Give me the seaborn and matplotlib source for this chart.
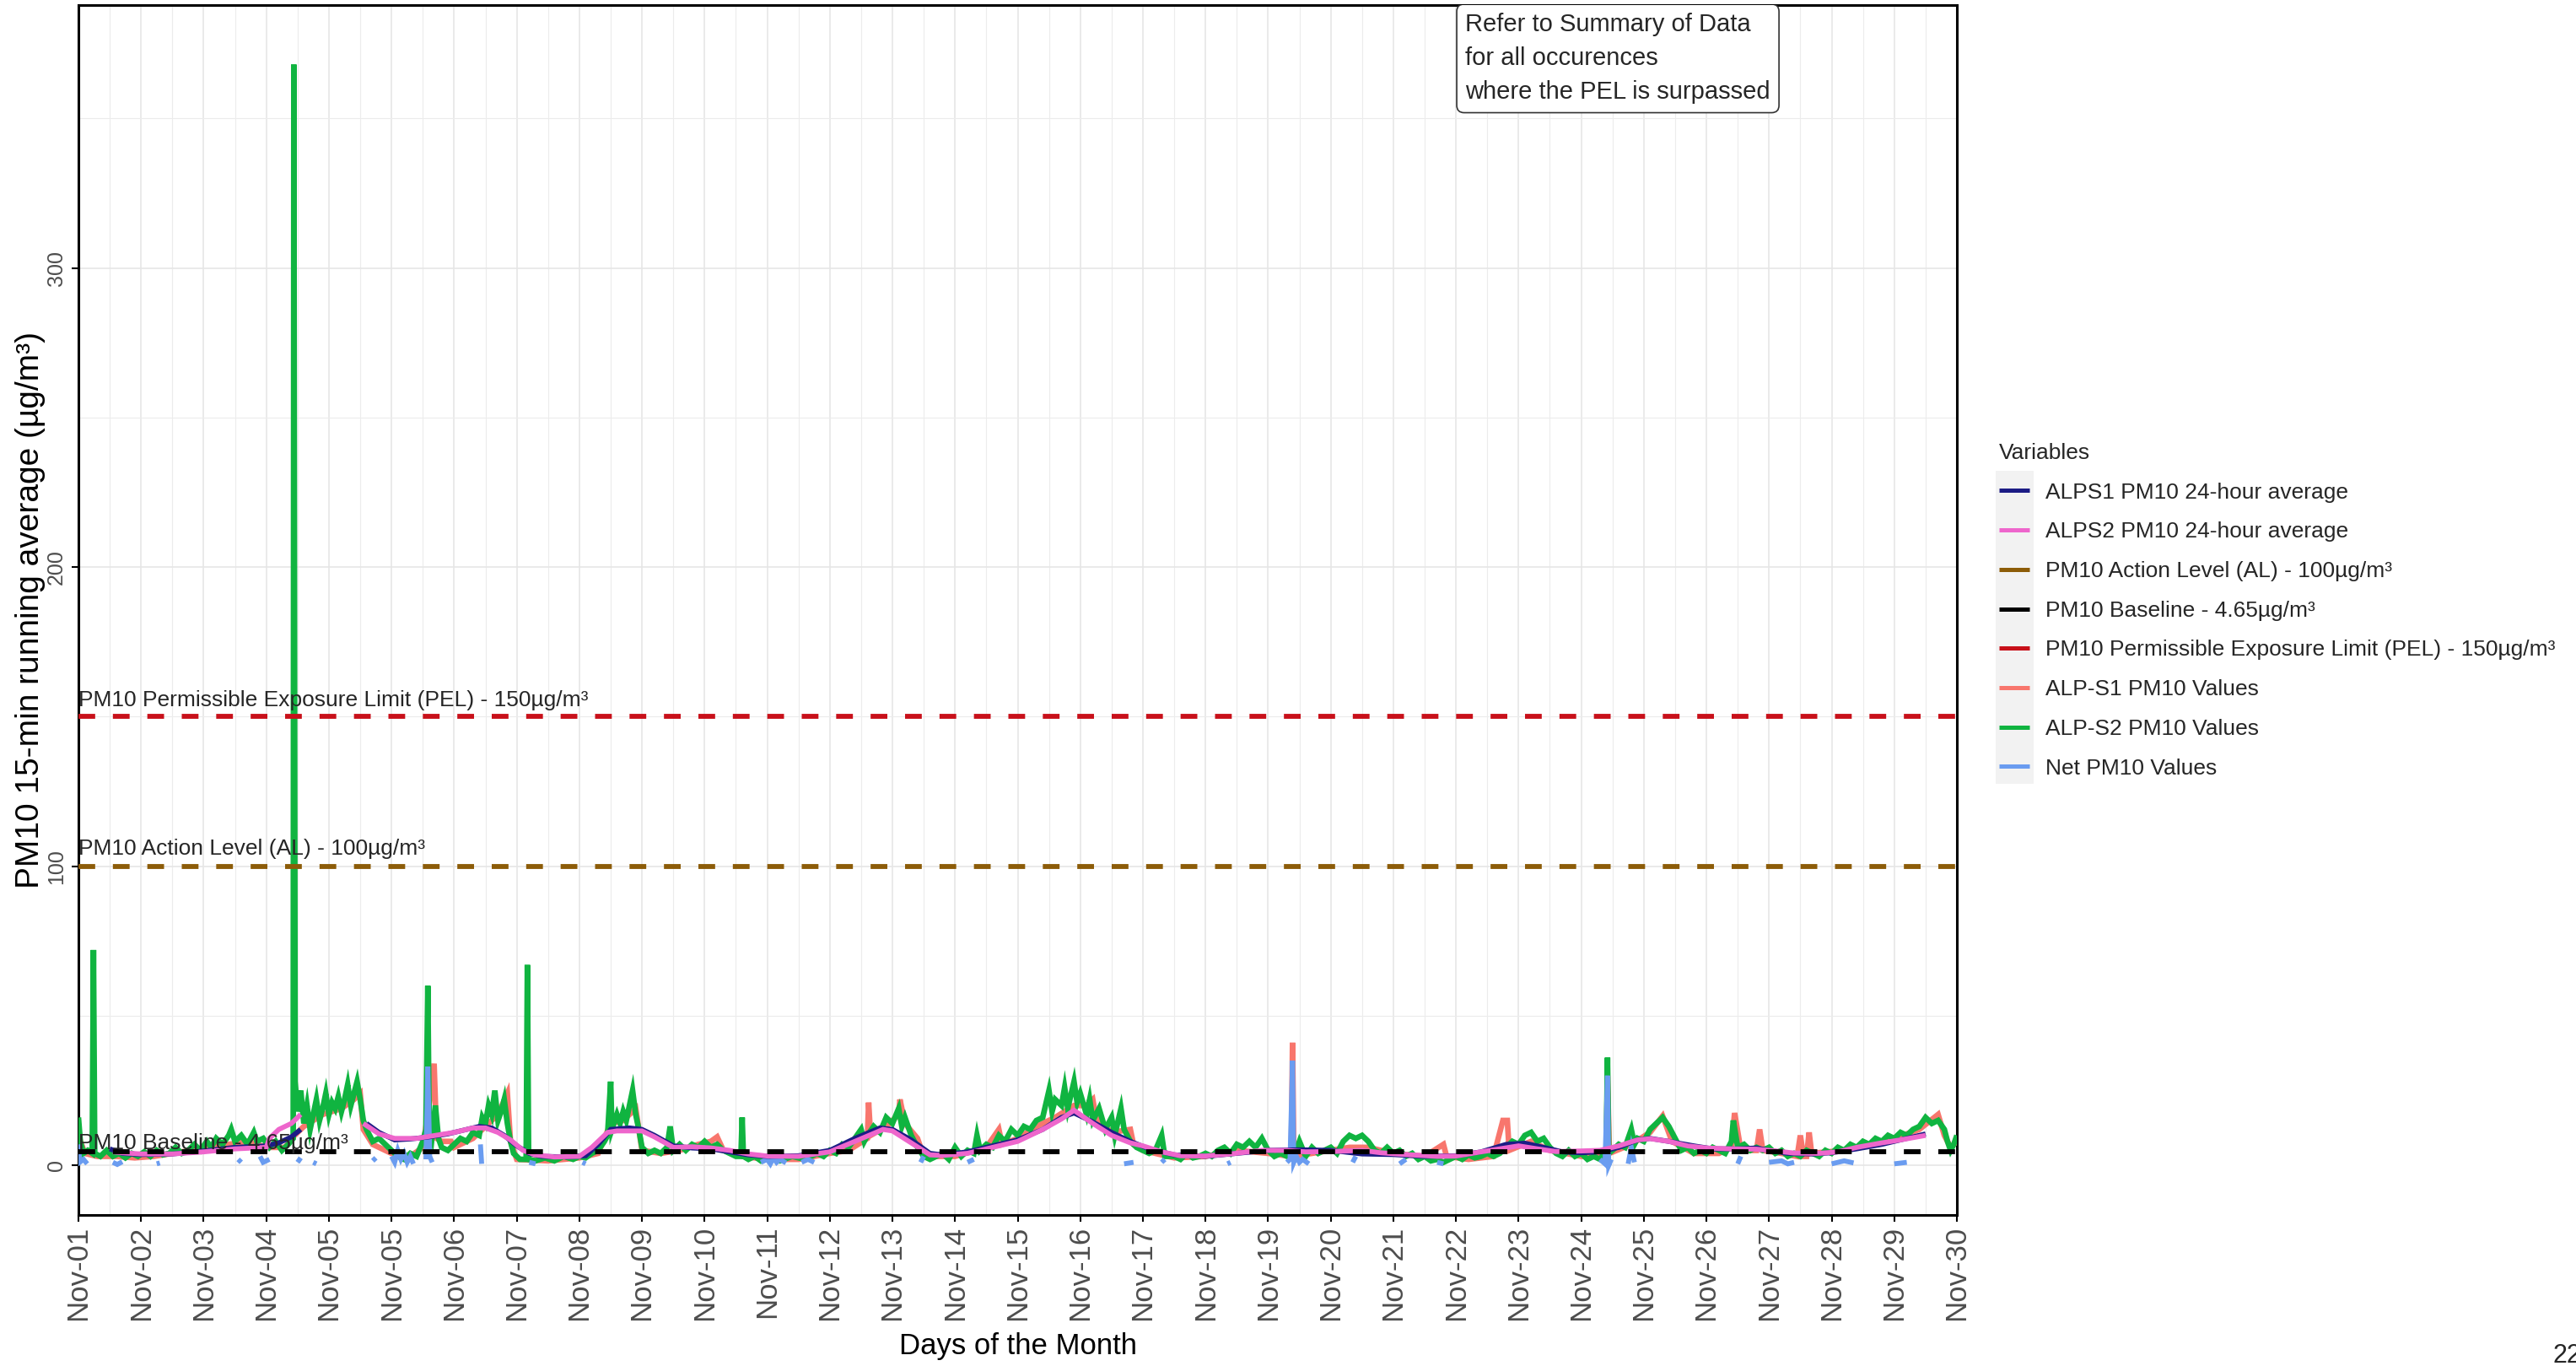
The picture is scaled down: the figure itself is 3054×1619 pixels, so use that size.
import numpy as np
import pandas as pd
import matplotlib.pyplot as plt
import seaborn as sns
from matplotlib.lines import Line2D
from matplotlib.patches import Rectangle

nan = np.nan

# ---- data (days since start of Nov-01, values in ug/m3) ----
tick_labels = ["Nov-01", "Nov-02", "Nov-03", "Nov-04", "Nov-05", "Nov-05", "Nov-06",
               "Nov-07", "Nov-08", "Nov-09", "Nov-10", "Nov-11", "Nov-12", "Nov-13",
               "Nov-14", "Nov-15", "Nov-16", "Nov-17", "Nov-18", "Nov-19", "Nov-20",
               "Nov-21", "Nov-22", "Nov-23", "Nov-24", "Nov-25", "Nov-26", "Nov-27",
               "Nov-28", "Nov-29", "Nov-30"]

s2_days = [0.00, 0.03, 0.08, 0.15, 0.22, 0.24, 0.26, 0.35, 0.45, 0.55, 0.65, 0.75, 0.85, 0.95,
           1.05, 1.15, 1.25, 1.35, 1.45, 1.55, 1.65, 1.75, 1.85, 1.95, 2.05, 2.12, 2.2, 2.3,
           2.4, 2.44, 2.5, 2.6, 2.7, 2.8, 2.85, 2.95, 3.05, 3.15, 3.25, 3.35, 3.43, 3.44, 3.46,
           3.5, 3.55, 3.6, 3.65, 3.7, 3.75, 3.8, 3.85, 3.9, 3.95, 4.0, 4.05, 4.1, 4.15, 4.2,
           4.25, 4.3, 4.35, 4.4, 4.45, 4.5, 4.55, 4.6, 4.65, 4.7, 4.8, 4.9, 5.0, 5.1, 5.2,
           5.3, 5.4, 5.5, 5.55, 5.58, 5.6, 5.65, 5.7, 5.75, 5.8, 5.9, 6.0, 6.1, 6.2, 6.3,
           6.4, 6.45, 6.5, 6.55, 6.6, 6.65, 6.7, 6.75, 6.8, 6.85, 6.9, 6.95, 7.05, 7.15,
           7.17, 7.19, 7.3, 7.45, 7.6, 7.75, 7.9, 8.0, 8.1, 8.2, 8.3, 8.4, 8.45, 8.5, 8.52,
           8.6, 8.65, 8.7, 8.75, 8.8, 8.85, 8.9, 8.95, 9.0, 9.1, 9.2, 9.3, 9.4, 9.45, 9.5,
           9.6, 9.7, 9.8, 9.9, 10.0, 10.1, 10.2, 10.3, 10.4, 10.5, 10.58, 10.6, 10.62,
           10.7, 10.8, 10.9, 11.0, 11.2, 11.4, 11.6, 11.8, 11.9, 12.0, 12.1, 12.2, 12.3,
           12.4, 12.5, 12.55, 12.6, 12.7, 12.8, 12.9, 13.0, 13.1, 13.15, 13.2, 13.3, 13.4,
           13.5, 13.6, 13.7, 13.8, 13.9, 14.0, 14.1, 14.2, 14.3, 14.35, 14.4, 14.5, 14.6,
           14.7, 14.8, 14.9, 15.0, 15.1, 15.2, 15.3, 15.4, 15.5, 15.55, 15.6, 15.7, 15.75,
           15.8, 15.9, 15.95, 16.0, 16.1, 16.15, 16.2, 16.3, 16.4, 16.5, 16.55, 16.65, 16.7,
           16.8, 16.9, 17.0, 17.1, 17.2, 17.3, 17.35, 17.5, 17.6, 17.7, 17.8, 17.9, 18.0,
           18.1, 18.2, 18.3, 18.4, 18.5, 18.6, 18.7, 18.8, 18.9, 19.0, 19.1, 19.2, 19.3,
           19.39, 19.45, 19.5, 19.6, 19.7, 19.8, 19.9, 20.0, 20.1, 20.2, 20.3, 20.4, 20.5,
           20.6, 20.7, 20.8, 20.9, 21.0, 21.1, 21.2, 21.3, 21.4, 21.5, 21.6, 21.7, 21.8,
           21.9, 22.0, 22.1, 22.2, 22.3, 22.4, 22.5, 22.6, 22.7, 22.8, 22.9, 23.0, 23.1,
           23.2, 23.3, 23.4, 23.5, 23.6, 23.7, 23.8, 23.9, 24.0, 24.1, 24.2, 24.3, 24.4,
           24.42, 24.44, 24.5, 24.6, 24.7, 24.8, 24.85, 24.9, 25.0, 25.1, 25.2, 25.3, 25.4,
           25.5, 25.6, 25.7, 25.8, 25.9, 26.0, 26.1, 26.2, 26.3, 26.4, 26.43, 26.5, 26.6,
           26.7, 26.8, 26.9, 27.0, 27.1, 27.2, 27.3, 27.4, 27.5, 27.6, 27.7, 27.8, 27.9,
           28.0, 28.1, 28.2, 28.3, 28.4, 28.5, 28.6, 28.7, 28.8, 28.9, 29.0, 29.1, 29.2,
           29.3, 29.4, 29.5, 29.6, 29.7, 29.8, 29.85, 29.9, 29.95, 30.0]
s2_vals = [16, 8, 4, 5, 4, 72, 4, 3, 5, 3, 4, 2.5, 4, 3,
           4.5, 3, 5, 3.5, 4, 6, 4, 5, 7, 5, 8, 6, 9, 7,
           10, 12, 8, 10, 7, 11, 8, 9, 6, 8, 5, 7, 9, 368, 28,
           18, 25, 14, 20, 12, 17, 22, 15, 19, 24, 17, 21, 19, 23, 18,
           22, 27, 20, 24, 28, 22, 15, 12, 10, 8, 9, 7, 5, 3, 2,
           4, 3, 8, 12, 60, 15, 10, 20, 9, 6, 5, 7, 9, 8, 11,
           10, 16, 14, 20, 17, 25, 15, 18, 22, 14, 8, 4, 2, 2,
           67, 2, 1.5, 2.5, 1.5, 3, 2, 3, 2.5, 4, 5, 8, 10, 28, 12,
           17, 14, 18, 15, 20, 25, 17, 12, 6, 4, 5, 4, 6, 13, 5,
           7, 5, 7, 6, 8, 6, 7, 5, 4, 3, 3, 16, 3,
           2, 3, 1.5, 2.5, 1.5, 3, 2, 4, 3, 5, 4, 7, 6,
           9, 12, 8, 10, 13, 11, 16, 14, 19, 13, 16, 10, 6,
           3, 2, 3, 4, 2, 6, 3, 5, 4, 10, 5, 7, 6,
           10, 8, 12, 10, 13, 12, 15, 16, 25, 18, 22, 20, 26,
           19, 28, 21, 24, 17, 22, 15, 19, 12, 16, 10, 19, 12,
           8, 6, 5, 4, 5, 10, 3, 3, 2, 4, 2.5, 3, 4,
           3, 5, 6, 4, 7, 6, 8, 6, 9, 5, 3, 4, 3,
           3, 5, 8, 3, 6, 4, 5, 6, 4, 8, 10, 9, 10,
           8, 5, 4, 6, 4, 5, 3, 4, 2, 3, 1.5, 2, 1,
           2, 3, 2, 3.5, 2.5, 3, 4, 3, 4, 6, 8, 7, 10,
           11, 8, 9, 6, 4, 3, 5, 3, 4, 2, 3, 2, 5,
           36, 4, 5, 7, 6, 12, 7, 9, 8, 12, 14, 16, 13,
           9, 5, 6, 4, 5, 4, 6, 5, 4, 8, 15, 6, 7,
           5, 6, 5, 6, 4, 5, 3, 4, 3, 5, 4, 3, 5,
           4, 6, 5, 7, 6, 8, 7, 9, 8, 10, 9, 11, 10,
           12, 13, 16, 14, 15, 12, 8, 5, 7, 10]

s1_days = [0.0, 0.1, 0.3, 0.6, 0.9, 1.2, 1.5, 1.8, 2.1, 2.4, 2.7, 3.0, 3.3, 3.45, 3.6,
           3.9, 4.2, 4.4, 4.5, 4.55, 4.7, 5.0, 5.3, 5.5, 5.6, 5.68, 5.72, 5.8, 5.95,
           6.0, 6.3, 6.5, 6.7, 6.85, 6.9, 7.0, 7.5, 8.0, 8.3, 8.5, 8.7, 8.9, 9.0, 9.3,
           9.6, 9.9, 10.1, 10.2, 10.3, 10.6, 11.0, 11.5, 12.0, 12.3, 12.6, 12.62, 12.65,
           12.9, 13.1, 13.12, 13.2, 13.4, 13.5, 14.0, 14.5, 14.7, 14.75, 15.0, 15.3,
           15.6, 15.9, 16.1, 16.2, 16.25, 16.5, 16.8, 16.85, 17.0, 17.5, 18.0, 18.5,
           19.0, 19.37, 19.39, 19.41, 19.7, 20.0, 20.3, 20.6, 21.0, 21.5, 21.8, 21.85,
           22.2, 22.6, 22.75, 22.82, 22.85, 23.2, 23.5, 24.0, 24.4, 24.42, 24.45, 24.8,
           25.1, 25.3, 25.45, 25.8, 26.2, 26.4, 26.45, 26.55, 26.8, 26.85, 26.9, 27.2,
           27.45, 27.5, 27.55, 27.6, 27.64, 27.68, 28.2, 28.6, 29.0, 29.4, 29.7, 29.8,
           29.9, 30.0]
s1_vals = [10, 4, 3, 3, 2.5, 3, 4, 5, 6, 7, 8, 6, 6, 10, 13,
           17, 19, 22, 24, 12, 7, 4, 3, 6, 20, 34, 9, 8, 8,
           6, 9, 13, 17, 24, 8, 2, 1.5, 2.5, 4, 14, 15, 19, 5, 4,
           5, 7, 8, 9.5, 5, 3, 2, 2, 4, 5, 9, 21, 10,
           13, 17, 22, 14, 9, 3, 3, 6, 12, 7, 9, 13,
           16, 20, 20, 22, 16, 11, 12, 7, 5, 2.5, 3, 5,
           4, 3, 41, 3, 4, 5, 6, 6, 4, 3, 7, 3,
           2, 3, 15, 15, 5, 8, 5, 3, 3, 30, 4, 7,
           11, 16.5, 8, 4, 4, 6, 17.5, 5, 5, 12, 5, 4,
           3, 10, 3, 3, 11, 4, 5, 7, 9, 12, 17, 10,
           6, 8]

net_days = [0.00, 0.02, 0.08, 0.14, 0.18, 0.55, 0.62, 0.70, 0.75, 1.25, 1.30, 1.35,
            2.55, 2.60, 2.70, 2.90, 2.95, 3.05, 3.10, 3.50, 3.55, 3.60, 3.75, 3.80, 3.85,
            4.70, 4.75, 4.80, 5.00, 5.05, 5.10, 5.15, 5.20, 5.25, 5.30, 5.35, 5.40,
            5.55, 5.58, 5.61, 5.65, 5.70, 6.42, 6.44, 6.47, 7.20, 7.30, 7.35, 8.05, 8.10,
            8.15, 10.90, 11.00, 11.05, 11.10, 11.15, 11.20, 11.30, 11.35, 11.55, 11.65,
            11.75, 11.80, 12.30, 12.35, 13.45, 13.50, 13.55, 14.20, 14.30, 14.35, 15.00,
            15.05, 16.70, 16.85, 16.90, 17.30, 17.35, 17.40, 18.35, 18.40, 18.45, 19.30,
            19.35, 19.39, 19.41, 19.45, 19.50, 19.55, 19.65, 19.70, 20.35, 20.40, 20.45,
            21.10, 21.20, 21.25, 21.70, 21.80, 21.90, 22.45, 22.50, 23.20, 23.25, 24.30,
            24.38, 24.42, 24.44, 24.48, 24.52, 24.75, 24.80, 24.85, 24.90, 26.50, 26.55,
            26.60, 27.00, 27.20, 27.30, 27.40, 27.45, 28.00, 28.20, 28.35, 28.40, 29.00,
            29.20, 29.25, 29.60, 29.65]
net_vals = [7, 1, 2, 0.5, nan, 1, 0.3, 1.2, nan, 0.5, 0.8, nan,
            2, 1, nan, 3, 1, 2, nan, 1, 2.5, nan, 1, 0.5, nan,
            1.5, 2.5, nan, 3, 1, 5, 2, 4, 1, 3, 0.5, nan,
            2, 33, 3, 1, nan, 7, 0.5, nan, 1, 0.5, nan, 1, 0.5,
            nan, 1, 2, 0.5, 2.5, 1, 2, 0.8, nan, 1, 2,
            1, nan, 0.5, nan, 1, 3, nan, 1, 2, nan, 0.5,
            nan, 0.5, 1, nan, 1, 2, nan, 0.5, 1, nan, 1,
            2, 35, 1, 3, 1, 2, 0.5, nan, 1, 3, nan,
            0.5, 2, nan, 1, 0.5, nan, 1, nan, 0.5, nan, 2,
            0.5, 30, 0, 2, nan, 0.5, 6, 1, nan, 0.5, 3,
            nan, 1, 1.5, 0.5, 1, nan, 0.5, 1.5, 0.8, nan, 0.5,
            1, nan, 1, nan]

avg1_days = [0.5, 0.7, 1.0, 1.5, 2.0, 2.5, 3.0, 3.2, 3.4, 3.55, 3.56, 4.6, 4.8, 5.05,
             5.3, 5.6, 5.9, 6.2, 6.4, 6.6, 6.8, 7.0, 7.2, 7.4, 7.8, 8.1, 8.3, 8.5, 8.8,
             9.0, 9.2, 9.5, 9.8, 10.1, 10.4, 10.7, 11.0, 11.5, 12.0, 12.4, 12.8, 13.0,
             13.3, 13.6, 13.8, 14.2, 14.6, 15.0, 15.4, 15.7, 15.9, 16.2, 16.5, 16.8,
             17.1, 17.5, 18.0, 18.5, 19.0, 19.5, 20.0, 20.5, 21.0, 21.5, 22.0, 22.4,
             22.8, 23.1, 23.4, 23.7, 24.0, 24.3, 24.6, 24.9, 25.1, 25.4, 25.8, 26.1,
             26.5, 26.8, 27.0, 27.3, 27.7, 28.0, 28.4, 28.8, 29.2, 29.5]
avg1_vals = [5.5, 4.0, 3.6, 3.8, 4.8, 6.0, 6.5, 7.5, 9.5, 12, nan, 14, 11, 8.5,
             8.8, 9.5, 10.5, 12, 13, 12.5, 10, 6.5, 4, 3, 2.8, 3.2, 7, 12, 12.5,
             12, 10, 6.5, 5.8, 5.5, 4.5, 3.5, 3.0, 3.2, 5.0, 9, 12.5, 12,
             8.5, 4, 3.5, 4.5, 6.5, 8.5, 12, 16, 17.5, 14.5, 11, 8,
             5.5, 3.5, 3.0, 4.0, 5.0, 5.2, 5.0, 3.8, 3.6, 3.0, 3.2, 4.5,
             7, 7.4, 6.0, 4.5, 4.2, 4.5, 6, 8.5, 9, 8, 6.5, 5.5,
             5.5, 5.8, 5.0, 4.0, 3.8, 4.2, 5.5, 7.0, 9.0, 10.5]

avg2_days = [0.55, 0.7, 1.0, 1.5, 2.0, 2.5, 3.0, 3.05, 3.2, 3.4, 3.55, 3.56, 4.55, 4.8,
             5.05, 5.4, 5.7, 6.0, 6.3, 6.5, 6.7, 6.9, 7.1, 7.3, 7.6, 8.0, 8.2, 8.45, 8.6,
             9.0, 9.2, 9.5, 9.8, 10.1, 10.4, 10.7, 11.0, 11.5, 12.0, 12.4, 12.85, 13.0,
             13.3, 13.6, 13.8, 14.2, 14.6, 15.0, 15.4, 15.7, 15.9, 16.2, 16.5, 16.8,
             17.0, 17.3, 17.6, 18.0, 18.4, 18.9, 19.3, 19.6, 20.0, 20.5, 20.8, 21.2,
             21.7, 22.0, 22.4, 22.7, 23.0, 23.3, 23.6, 24.0, 24.3, 24.6, 24.9, 25.1,
             25.4, 25.7, 26.0, 26.4, 26.8, 27.1, 27.4, 27.8, 28.1, 28.4, 28.8, 29.1, 29.5]
avg2_vals = [4.5, 4.2, 3.8, 3.8, 4.5, 5.5, 6.0, 9, 12, 14, 17, nan, 14, 10.5,
             9, 9, 10, 11, 12.5, 12.5, 11, 8.5, 5, 3.5, 2.8, 3, 6, 11, 11.5,
             11.5, 9.5, 6, 6.2, 5.8, 5.0, 3.8, 3.1, 3.0, 4.5, 8, 12, 11.5,
             7.5, 3.5, 3.3, 4.0, 6.0, 8.0, 12, 15.5, 18.4, 14, 10, 7.5,
             6.5, 4.5, 3.2, 3.1, 3.8, 5.0, 5.0, 4.5, 4.6, 5.0, 4.2, 3.6,
             3.0, 3.1, 4.5, 5.5, 6.5, 5.5, 4.6, 4.8, 5.0, 6.5, 8.5, 8.9,
             8.0, 6.5, 5.8, 5.5, 5.4, 4.8, 4.1, 4.0, 4.5, 6.0, 7.5, 8.5, 10]

pel_level = 150
al_level = 100
baseline_level = 4.65

legend_labels = ["ALPS1 PM10 24-hour average", "ALPS2 PM10 24-hour average",
                 "PM10 Action Level (AL) - 100µg/m³", "PM10 Baseline - 4.65µg/m³",
                 "PM10 Permissible Exposure Limit (PEL) - 150µg/m³",
                 "ALP-S1 PM10 Values", "ALP-S2 PM10 Values", "Net PM10 Values"]
legend_colors = ["#1c1c85", "#ee66cc", "#8c5c08", "black", "#c8101a",
                 "#f8766d", "#10b440", "#6a9cf0"]

# ---- plotting ----
sns.set_theme(style="whitegrid")
plt.rcParams['font.family'] = ['Liberation Sans', 'DejaVu Sans']

fig = plt.figure(figsize=(30.54, 16.19), dpi=100)
ax = fig.add_axes([93 / 3054, 1 - 1440 / 1619, (2320 - 93) / 3054, (1440 - 6) / 1619])


def draw(days, vals, color, lw, z):
    d = pd.DataFrame({"day": days, "val": vals})
    d["seg"] = d["val"].isna().cumsum()
    d = d.dropna()
    sns.lineplot(data=d, x="day", y="val", units="seg", estimator=None, sort=False,
                 color=color, linewidth=lw, ax=ax, zorder=z, solid_capstyle="butt",
                 solid_joinstyle="miter")


draw(s1_days, s1_vals, legend_colors[5], 4.8, 3)
draw(s2_days, s2_vals, legend_colors[6], 4.8, 4)
draw(net_days, net_vals, legend_colors[7], 4.2, 5)
draw(avg1_days, avg1_vals, legend_colors[0], 4.2, 6)
draw(avg2_days, avg2_vals, legend_colors[1], 4.2, 7)

dash = (0, (3.4, 3.6))
ax.axhline(baseline_level, color="black", lw=4.2, ls=dash, zorder=8)
ax.axhline(al_level, color=legend_colors[2], lw=4.2, ls=dash, zorder=8)
ax.axhline(pel_level, color=legend_colors[4], lw=4.2, ls=dash, zorder=8)

ax.text(0, 153.5, "PM10 Permissible Exposure Limit (PEL) - 150µg/m³", fontsize=19,
        ha="left", va="baseline", zorder=9)
ax.text(0, 103.8, "PM10 Action Level (AL) - 100µg/m³", fontsize=19,
        ha="left", va="baseline", zorder=9)
ax.text(0, 5.5, "PM10 Baseline - 4.65µg/m³", fontsize=19,
        ha="left", va="baseline", zorder=9)

ax.text(22.15, 354.8, "Refer to Summary of Data\nfor all occurences\nwhere the PEL is surpassed",
        fontsize=21, ha="left", va="bottom", linespacing=1.55, zorder=10, clip_on=True,
        bbox=dict(boxstyle="round,pad=0.35,rounding_size=0.3", fc="white", ec="#333333", lw=1.2))

ax.set_xlim(0, 30)
ax.set_ylim(-16.6, 387.9)
ax.set_xticks(range(len(tick_labels)))
ax.set_xticklabels(tick_labels)
ax.set_xticks(np.arange(0.5, 30, 1), minor=True)
ax.set_yticks([0, 100, 200, 300])
ax.set_yticks([50, 150, 250, 350], minor=True)

ax.grid(which="major", color="#e6e6e6", lw=1.2)
ax.grid(which="minor", color="#ececec", lw=0.8)
ax.set_axisbelow(True)
for sp in ax.spines.values():
    sp.set_color("black")
    sp.set_linewidth(2.2)

ax.tick_params(axis="x", which="major", length=6, width=1.5, color="black", pad=3,
               labelsize=25, labelcolor="#4d4d4d", labelrotation=90, bottom=True)
ax.tick_params(axis="y", which="major", length=6, width=1.5, color="black", pad=4,
               labelsize=18, labelcolor="#4d4d4d", labelrotation=90, left=True)
ax.tick_params(which="minor", length=0)
for lab in ax.get_yticklabels():
    lab.set_va("center")

ax.set_xlabel("Days of the Month", fontsize=25, labelpad=10, color="black")
ax.set_ylabel("PM10 15-min running average (µg/m³)", fontsize=28, labelpad=1, color="black")

# legend with grey key column
handles = [Line2D([], [], color=c, lw=3.6, solid_capstyle="butt") for c in legend_colors]
leg = fig.legend(handles, legend_labels, loc="upper left",
                 bbox_to_anchor=(2370 / 3054, 1 - 525 / 1619), frameon=False,
                 fontsize=19, title="Variables", title_fontsize=19, alignment="left",
                 handlelength=1.36, handletextpad=0.72, labelspacing=0.86, borderpad=0,
                 borderaxespad=0)
fig.patches.append(Rectangle((2366 / 3054, 1 - 929 / 1619), 45 / 3054, 371 / 1619,
                             transform=fig.transFigure, facecolor="#f2f2f2",
                             edgecolor="none", zorder=0))

fig.text(3027 / 3054, 4 / 1619, "22", fontsize=22, ha="left", va="baseline")

fig.savefig("out.png", dpi=100)
